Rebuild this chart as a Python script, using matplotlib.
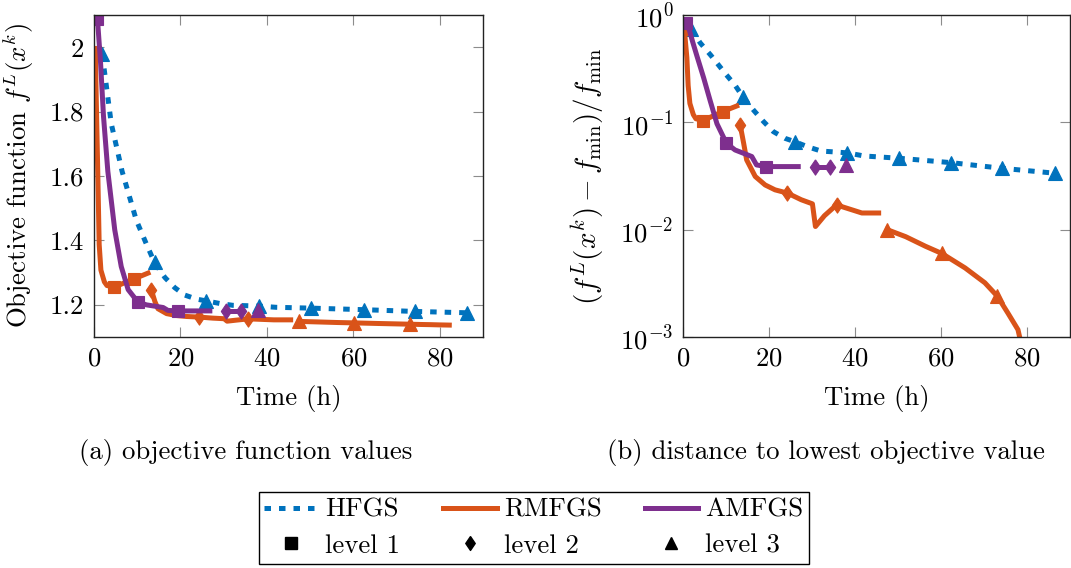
import numpy as np
import matplotlib
matplotlib.use('Agg')
import matplotlib.pyplot as plt
from matplotlib.lines import Line2D
from matplotlib.ticker import FuncFormatter, NullLocator, FixedLocator

plt.rcParams['font.family'] = 'serif'
plt.rcParams['font.serif'] = ['cmr10', 'DejaVu Serif']
plt.rcParams['mathtext.fontset'] = 'cm'
plt.rcParams['axes.formatter.use_mathtext'] = True
plt.rcParams['axes.unicode_minus'] = False
FS = 19.3
plt.rcParams['font.size'] = FS

# lowest objective value found (used for the relative distance)
F_MIN = 1.137

# relative distance (f - f_min)/f_min per method and level
# HFGS: level 3 only
hf_t = [1.9, 4.0, 6.5, 9.8, 12.1, 14.0, 16.4, 18.7, 21.0, 23.7, 26.0, 29.1, 32.1,
        35.2, 38.1, 42.1, 50.2, 62.4, 74.2, 86.4]
hf_d = [0.74, 0.55, 0.42, 0.286, 0.222, 0.171, 0.13, 0.102, 0.082, 0.071, 0.066,
        0.059, 0.054, 0.053, 0.052, 0.0486, 0.0463, 0.0421, 0.0373, 0.0336]
hf_mk = [0, 5, 10, 14, 16, 17, 18, 19]

# RMFGS
rm1_t = [0.3, 0.9, 1.2, 1.6, 2.4, 3.0, 4.7, 9.2, 12.5]
rm1_d = [0.745, 0.40, 0.22, 0.15, 0.118, 0.108, 0.104, 0.126, 0.142]
rm1_mk = [0, 6, 7]
rm2_t = [13.3, 14.1, 14.8, 16.8, 19.1, 21.4, 24.3, 27.5, 30.1, 30.8, 32.9, 35.7, 41.6, 45.5]
rm2_d = [0.0946, 0.064, 0.0447, 0.0313, 0.0261, 0.0235, 0.0219, 0.019, 0.0174, 0.0107,
         0.0135, 0.017, 0.0143, 0.0143]
rm2_mk = [0, 6, 11]
rm3_t = [47.5, 51.8, 56.4, 60.2, 65.6, 70.2, 73.1, 75.6, 77.9, 80.0, 82.2]
rm3_d = [0.0100, 0.0086, 0.0070, 0.0060, 0.0044, 0.0032, 0.0024, 0.00166, 0.00117,
         0.0005, 0.0]
rm3_mk = [0, 3, 6]

# AMFGS
am1_t = [0.8, 1.5, 2.2, 3.2, 4.8, 6.3, 7.9, 10.1, 12.1, 16.0, 17.1, 19.4, 26.8]
am1_d = [0.836, 0.72, 0.57, 0.42, 0.26, 0.16, 0.097, 0.0638, 0.0553, 0.048, 0.0401,
         0.0387, 0.0387]
am1_mk = [0, 7, 11]
am2_t = [30.6, 34.1]
am2_d = [0.0387, 0.0387]
am2_mk = [0, 1]
am3_t = [37.9]
am3_d = [0.040]
am3_mk = [0]

colors = {'HFGS': '#0072BD', 'RMFGS': '#D95319', 'AMFGS': '#7E2F8E'}
diamond = [(0, 1), (0.68, 0), (0, -1), (-0.68, 0), (0, 1)]
markers = {1: 's', 2: diamond, 3: '^'}
msizes = {1: 9, 2: 11, 3: 10}

segments = [
    ('HFGS', 3, hf_t, hf_d, hf_mk),
    ('RMFGS', 1, rm1_t, rm1_d, rm1_mk),
    ('RMFGS', 2, rm2_t, rm2_d, rm2_mk),
    ('RMFGS', 3, rm3_t, rm3_d, rm3_mk),
    ('AMFGS', 1, am1_t, am1_d, am1_mk),
    ('AMFGS', 2, am2_t, am2_d, am2_mk),
    ('AMFGS', 3, am3_t, am3_d, am3_mk),
]

W, H = 1071, 568
fig = plt.figure(figsize=(W / 100, H / 100), dpi=100)
ax1 = fig.add_axes([94 / W, 1 - 337 / H, 389 / W, 322 / H])
ax2 = fig.add_axes([683 / W, 1 - 337 / H, 387 / W, 322 / H])

LW = 3.6
DASH = (0, (1.3, 1.6))
for name, lev, t, d, mk in segments:
    t = np.array(t)
    d = np.array(d)
    c = colors[name]
    kw = dict(color=c, lw=LW, marker=markers[lev], ms=msizes[lev], markevery=mk,
              mfc=c, mec=c, mew=0.8)
    if name == 'HFGS':
        kw.update(ls=DASH, dash_capstyle='butt')
    ax1.plot(t, F_MIN * (1 + d), **kw)
    ax2.plot(t, d, **kw)

for ax in (ax1, ax2):
    ax.set_xlim(0, 90)
    ax.xaxis.set_major_locator(FixedLocator([0, 20, 40, 60, 80]))
    ax.tick_params(direction='in', top=True, right=True, length=7, width=0.8,
                   color='#8c8c8c', pad=7, labelsize=FS)
    ax.tick_params(which='minor', length=0)
    for s in ax.spines.values():
        s.set_linewidth(1.0)
        s.set_color('#222222')
    ax.set_xlabel('Time (h)', fontsize=FS)
    ax.xaxis.set_label_coords(0.5, -0.15)

ax1.set_ylim(1.1, 2.1)
ax1.yaxis.set_major_locator(FixedLocator([1.2, 1.4, 1.6, 1.8, 2.0]))
ax1.yaxis.set_major_formatter(FuncFormatter(lambda v, _: f'{v:g}'))
ax1.set_ylabel('Objective function $f^L(x^k)$', fontsize=FS)
ax1.yaxis.set_label_coords(-0.15, 0.5)

ax2.set_yscale('log')
ax2.set_ylim(1e-3, 1)
ax2.yaxis.set_minor_locator(NullLocator())
ax2.set_ylabel(r'$(f^L(x^k) - f_{\min})/f_{\min}$', fontsize=21)
ax2.yaxis.set_label_coords(-0.2, 0.5)

fig.text(246 / W, 1 - 453 / H, '(a) objective function values', ha='center', va='center',
         fontsize=FS)
fig.text(826 / W, 1 - 453 / H, '(b) distance to lowest objective value', ha='center',
         va='center', fontsize=FS)

handles = [
    Line2D([], [], color=colors['HFGS'], lw=LW, ls=DASH),
    Line2D([], [], color='black', ls='none', marker='s', ms=8),
    Line2D([], [], color=colors['RMFGS'], lw=LW),
    Line2D([], [], color='black', ls='none', marker=diamond, ms=10),
    Line2D([], [], color=colors['AMFGS'], lw=LW),
    Line2D([], [], color='black', ls='none', marker='^', ms=9),
]
labels = ['HFGS', 'level 1', 'RMFGS', 'level 2', 'AMFGS', 'level 3']
leg = fig.legend(handles, labels, ncol=3, loc='center',
                 bbox_to_anchor=(534 / W, 1 - 528 / H), fontsize=FS,
                 frameon=True, fancybox=False, edgecolor='black', framealpha=1,
                 handlelength=2.0, handletextpad=0.27, columnspacing=1.6,
                 labelspacing=0.45, borderpad=0.22, borderaxespad=0)
leg.get_frame().set_linewidth(1.0)

fig.savefig('out.png', dpi=100)
